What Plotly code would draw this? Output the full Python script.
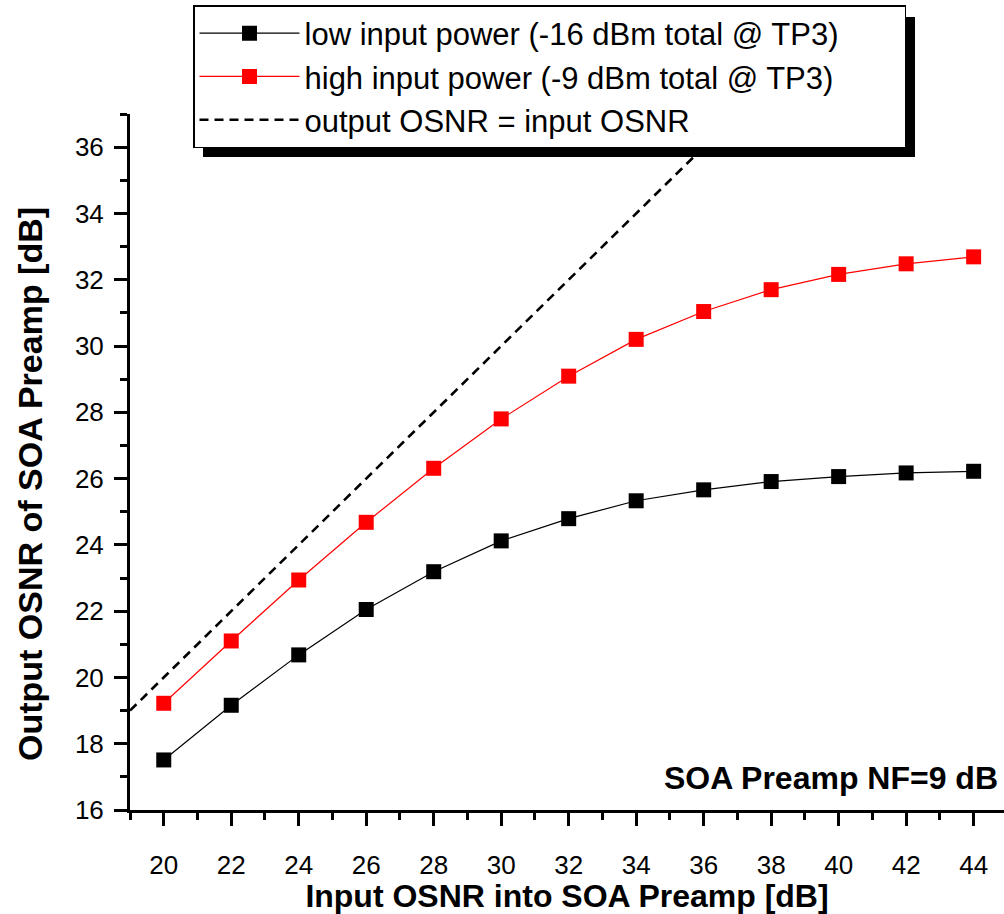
import plotly.graph_objects as go

x_osnr = [20, 22, 24, 26, 28, 30, 32, 34, 36, 38, 40, 42, 44]
low_power = [17.51, 19.16, 20.68, 22.05, 23.19, 24.12, 24.79, 25.33, 25.66, 25.91, 26.06, 26.17, 26.22]
high_power = [19.22, 21.10, 22.94, 24.68, 26.31, 27.80, 29.09, 30.20, 31.04, 31.70, 32.16, 32.48, 32.69]
ref_x = [19, 37]
ref_y = [19, 37]

FONT = "Liberation Sans, Arial, sans-serif"
PAD = "\u00a0" * 7

fig = go.Figure()
fig.add_trace(go.Scatter(
    x=x_osnr, y=low_power, mode="lines+markers",
    name="low input power (-16 dBm total @ TP3)" + PAD,
    line=dict(color="black", width=1.2),
    marker=dict(symbol="square", size=15, color="black"),
))
fig.add_trace(go.Scatter(
    x=x_osnr, y=high_power, mode="lines+markers",
    name="high input power (-9 dBm total @ TP3)",
    line=dict(color="#ff0000", width=1.2),
    marker=dict(symbol="square", size=15, color="#ff0000"),
))
fig.add_trace(go.Scatter(
    x=ref_x, y=ref_y, mode="lines",
    name="output OSNR = input OSNR",
    line=dict(color="black", width=2.6, dash="9px,6px"),
))

L, R, T, B = 130, 0, 114, 104
W, H = 1004, 914
pw = W - L - R
ph = H - T - B

def px(xp):
    return (xp - L) / pw

def py(yp):
    return (H - B - yp) / ph

# legend shadow
fig.add_shape(type="rect", xref="paper", yref="paper",
              x0=px(203), x1=px(915), y0=py(157), y1=py(17),
              fillcolor="black", line=dict(width=0), layer="above")

axis_common = dict(
    showline=True, linecolor="black", linewidth=3,
    ticks="outside", ticklen=13, tickwidth=3, tickcolor="black",
    showgrid=False, zeroline=False, mirror=False,
    tickfont=dict(family=FONT, size=26, color="black"),
)

fig.update_xaxes(
    range=[19, 44.9], tickmode="linear", tick0=20, dtick=2,
    minor=dict(ticks="outside", ticklen=7, tickwidth=3, tickcolor="black", dtick=1, tick0=19, showgrid=False),
    ticklabelstandoff=17,
    title=dict(text="<b>Input OSNR into SOA Preamp [dB]</b>",
               font=dict(family=FONT, size=32, color="black"), standoff=5),
    **axis_common,
)
fig.update_yaxes(
    range=[16, 37], tickmode="linear", tick0=16, dtick=2,
    minor=dict(ticks="outside", ticklen=7, tickwidth=3, tickcolor="black", dtick=1, tick0=17, showgrid=False),
    ticklabelstandoff=5,
    **axis_common,
)

# y-axis title (placed as an annotation to match the reference's offset)
fig.add_annotation(
    x=-(L - 30) / pw, y=py(484), xref="paper", yref="paper",
    xanchor="center", yanchor="middle", showarrow=False, textangle=-90,
    text="<b>Output OSNR of SOA Preamp [dB]</b>",
    font=dict(family=FONT, size=34, color="black"),
)

fig.add_annotation(
    x=0.995, y=py(778), xref="paper", yref="paper",
    xanchor="right", yanchor="middle", showarrow=False,
    text="<b>SOA Preamp NF=9 dB</b>",
    font=dict(family=FONT, size=32, color="black"),
)

fig.update_layout(
    width=W, height=H, autosize=False,
    margin=dict(l=L, r=R, t=T, b=B, pad=0),
    paper_bgcolor="white", plot_bgcolor="white",
    font=dict(family=FONT, color="black"),
    showlegend=True,
    legend=dict(
        x=px(193), y=py(5), xanchor="left", yanchor="top",
        bgcolor="white", bordercolor="black", borderwidth=1.5,
        font=dict(family=FONT, size=31, color="black"),
        tracegroupgap=0, itemwidth=100,
    ),
)

fig.write_html("out.html")
